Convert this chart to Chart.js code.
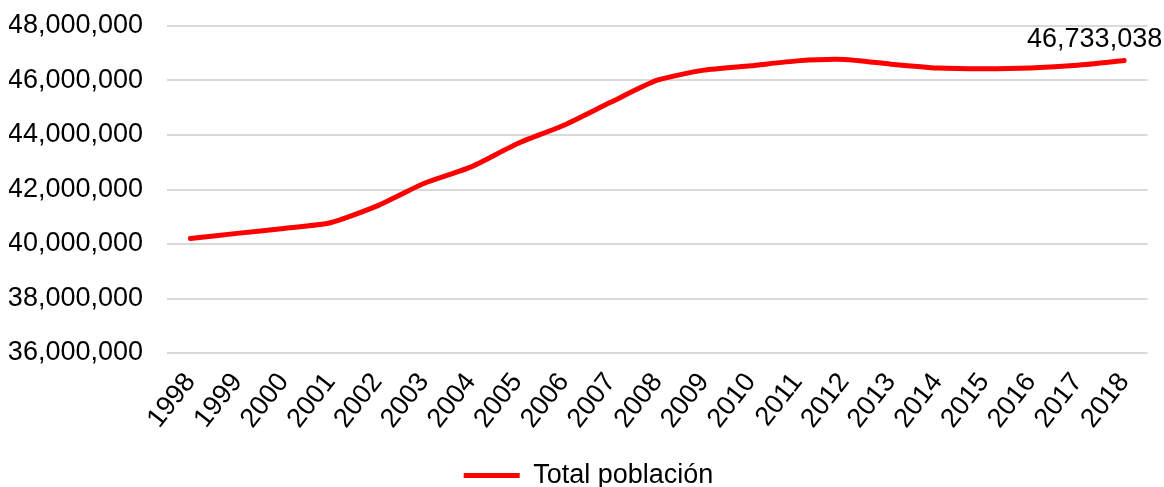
<!DOCTYPE html>
<html>
<head>
<meta charset="utf-8">
<script src="https://cdn.jsdelivr.net/npm/chart.js@4/dist/chart.umd.min.js"></script>
<style>
  html, body { margin: 0; padding: 0; background: #ffffff; }
  #wrap { width: 1164px; height: 487px; }
</style>
</head>
<body>
<div id="wrap"><canvas id="chart" width="1164" height="487"></canvas></div>
<script>
// Población total a 1 de enero, 1998-2018
const years = ['1998','1999','2000','2001','2002','2003','2004','2005','2006','2007',
               '2008','2009','2010','2011','2012','2013','2014','2015','2016','2017','2018'];
const poblacion = [40200000, 40390000, 40570000, 40780000, 41400000, 42220000, 42820000,
                   43680000, 44360000, 45200000, 46010000, 46380000, 46540000, 46720000,
                   46770000, 46600000, 46460000, 46430000, 46460000, 46560000, 46733038];
const yMin = 36000000;
const yMax = 48000000;
const yStep = 2000000;
const seriesName = 'Total población';

const FONT = "'Liberation Sans', Arial, sans-serif";
const FONT_SIZE = 27;
const fmt = v => Math.round(v).toLocaleString('en-US');

// Etiqueta con el valor del último año, encima de su punto
const lastValueLabel = {
  id: 'lastValueLabel',
  afterDatasetsDraw(chart) {
    const meta = chart.getDatasetMeta(0);
    const i = poblacion.length - 1;
    const pt = meta.data[i];
    const ctx = chart.ctx;
    ctx.save();
    ctx.font = FONT_SIZE + 'px ' + FONT;
    ctx.fillStyle = '#000000';
    ctx.textAlign = 'right';
    ctx.textBaseline = 'middle';
    ctx.fillText(fmt(poblacion[i]), pt.x + 38, pt.y - 21);
    ctx.restore();
  }
};

// Desplaza ligeramente la leyenda hacia la derecha
const legendShift = {
  id: 'legendShift',
  afterLayout(chart) {
    if (chart.legend) {
      chart.legend.left += 8;
      chart.legend.right += 8;
    }
  }
};

new Chart(document.getElementById('chart'), {
  type: 'line',
  data: {
    labels: years,
    datasets: [{
      label: seriesName,
      data: poblacion,
      borderColor: '#ff0000',
      backgroundColor: '#ff0000',
      borderWidth: 5,
      borderCapStyle: 'round',
      borderJoinStyle: 'round',
      tension: 0.2,
      pointRadius: 0,
      pointHoverRadius: 0,
      fill: false
    }]
  },
  options: {
    responsive: false,
    animation: false,
    devicePixelRatio: 1,
    layout: { padding: { left: 9, right: 12, top: 0, bottom: -12 } },
    plugins: {
      tooltip: { enabled: false },
      legend: {
        position: 'bottom',
        labels: {
          usePointStyle: true,
          pointStyle: 'line',
          pointStyleWidth: 56,
          color: '#000000',
          font: { family: FONT, size: FONT_SIZE },
          padding: 0
        }
      }
    },
    scales: {
      x: {
        offset: true,
        grid: { display: false, drawTicks: false },
        border: { display: false },
        afterFit: s => { s.height = 109; },
        ticks: {
          color: '#000000',
          font: { family: FONT, size: FONT_SIZE },
          maxRotation: 52,
          minRotation: 52,
          autoSkip: false,
          padding: 14
        }
      },
      y: {
        min: yMin,
        max: yMax,
        grid: { color: '#d9d9d9', lineWidth: 2, drawTicks: false },
        border: { display: false },
        afterFit: s => { s.width = 158; s.paddingTop = 26; s.paddingBottom = 0; },
        ticks: {
          stepSize: yStep,
          color: '#000000',
          font: { family: FONT, size: FONT_SIZE },
          padding: 24,
          callback: v => fmt(v)
        }
      }
    }
  },
  plugins: [lastValueLabel, legendShift]
});
</script>
</body>
</html>
